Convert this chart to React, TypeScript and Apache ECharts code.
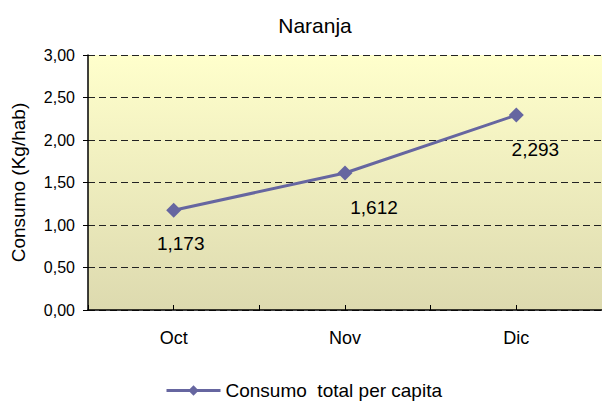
import React, { useEffect, useRef } from "react";
import * as echarts from "echarts";

const categories = ["Oct", "Nov", "Dic"];
const consumo = [1.173, 1.612, 2.293];
const seriesName = "Consumo  total per capita";
const yTicks = { min: 0, max: 3, interval: 0.5 };
const titleText = "Naranja";
const yAxisName = "Consumo (Kg/hab)";
// label offsets (style only) relative to each point
const labelOffsets = [
  [7, 33],
  [29, 35],
  [19, 34],
];

const FONT = "Liberation Sans, Arial, sans-serif";
const LINE_COLOR = "#6666A0";

export default function App() {
  const ref = useRef<HTMLDivElement>(null);
  useEffect(() => {
    if (!ref.current) return;
    const chart = echarts.init(ref.current, undefined, { renderer: "svg" });
    const fmt = (v: number) => v.toFixed(2).replace(".", ",");
    chart.setOption({
      animation: false,
      backgroundColor: "#ffffff",
      textStyle: { fontFamily: FONT },
      title: {
        text: titleText,
        left: 310,
        top: 10,
        textAlign: "center",
        textStyle: { fontFamily: FONT, fontSize: 21, fontWeight: "normal", color: "#000" },
      },
      legend: {
        left: 165,
        top: 381,
        padding: 0,
        itemWidth: 54,
        itemHeight: 13,
        itemGap: 10,
        lineStyle: { width: 3 },
        textStyle: { fontFamily: FONT, fontSize: 19, color: "#000" },
        data: [seriesName],
      },
      grid: {
        left: 88,
        right: -1,
        top: 55,
        bottom: 93,
        show: true,
        borderWidth: 0,
        backgroundColor: {
          type: "linear",
          x: 0,
          y: 0,
          x2: 0,
          y2: 1,
          colorStops: [
            { offset: 0, color: "#FFFFCC" },
            { offset: 1, color: "#DDDAAF" },
          ],
        },
      },
      xAxis: [
        {
          type: "category",
          data: categories,
          boundaryGap: true,
          axisLine: { show: true, lineStyle: { color: "#000", width: 1.5 } },
          axisTick: { show: false },
          axisLabel: { fontFamily: FONT, fontSize: 18, color: "#000", margin: 19 },
          splitLine: { show: false },
        },
        {
          type: "category",
          data: ["", "", "", "", "", ""],
          position: "bottom",
          boundaryGap: true,
          axisLine: { show: false },
          axisTick: { show: true, inside: true, length: 5, lineStyle: { color: "#000" } },
          axisLabel: { show: false },
          splitLine: { show: false },
        },
      ],
      yAxis: {
        type: "value",
        min: yTicks.min,
        max: yTicks.max,
        interval: yTicks.interval,
        name: yAxisName,
        nameLocation: "middle",
        nameGap: 60,
        nameTextStyle: { fontFamily: FONT, fontSize: 19, color: "#000" },
        axisLine: { show: true, lineStyle: { color: "#000", width: 1.5 } },
        axisTick: { show: true, length: 5, lineStyle: { color: "#000" } },
        axisLabel: { fontFamily: FONT, fontSize: 16, color: "#000", margin: 13, formatter: fmt },
        splitLine: { show: true, lineStyle: { color: "#222", type: [7, 4], width: 1 } },
      },
      series: [
        {
          name: seriesName,
          type: "line",
          xAxisIndex: 0,
          data: consumo.map((v, i) => ({
            value: v,
            label: { offset: labelOffsets[i] },
          })),
          symbol: "diamond",
          symbolSize: 15,
          itemStyle: { color: LINE_COLOR },
          lineStyle: { color: LINE_COLOR, width: 3 },
          label: {
            show: true,
            position: "inside",
            fontFamily: FONT,
            fontSize: 19,
            color: "#000",
            formatter: (p: any) => String(p.value.toFixed(3)).replace(".", ","),
          },
        },
      ],
    });
    return () => chart.dispose();
  }, []);
  return (
    <div
      ref={ref}
      style={{ position: "absolute", left: 0, top: 0, width: 602, height: 403 }}
    />
  );
}
